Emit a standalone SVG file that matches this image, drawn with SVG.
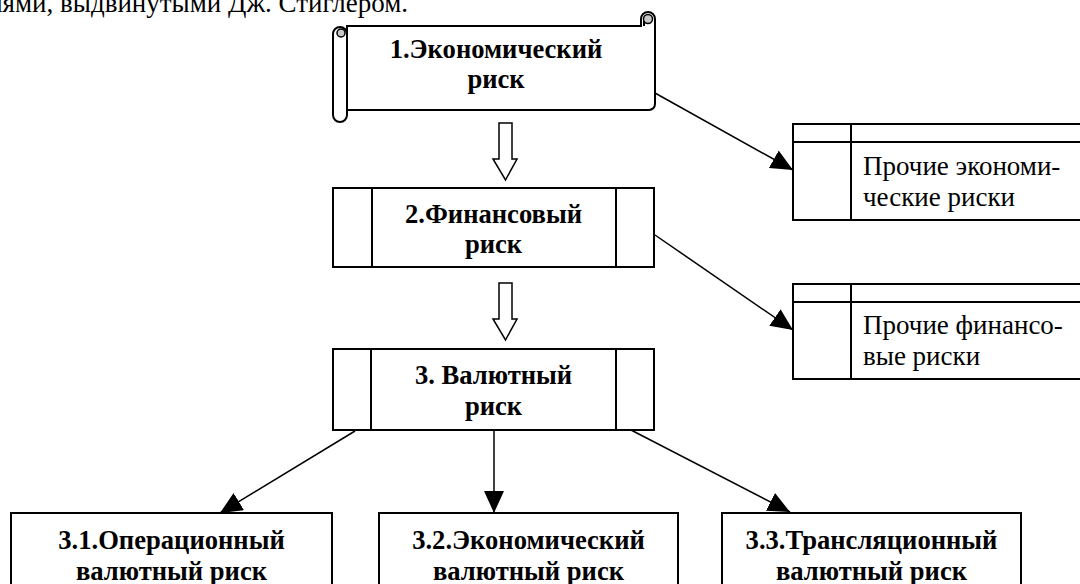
<svg xmlns="http://www.w3.org/2000/svg" width="1080" height="584" viewBox="0 0 1080 584">
<style>
.t{font-family:"Liberation Serif","Times New Roman",serif;font-size:27px;fill:#000}
.b{font-weight:bold;text-anchor:middle;font-size:26.6px}
.box{fill:#fff;stroke:#000;stroke-width:2}
.ln{fill:none;stroke:#000;stroke-width:2}
.con{fill:none;stroke:#000;stroke-width:1.5;marker-end:url(#ah)}
.blk{fill:#fff;stroke:#000;stroke-width:1.5}
</style>
<defs>
<marker id="ah" markerUnits="userSpaceOnUse" markerWidth="22" markerHeight="20" viewBox="0 0 22 20" refX="22" refY="10" orient="auto">
<path d="M0,0 L22,10 L0,20 Z" fill="#000"/>
</marker>
</defs>
<rect width="1080" height="584" fill="#fff"/>
<text class="t" x="408" y="12" text-anchor="end">иями, выдвинутыми Дж. Стиглером.</text>

<g id="connectors">
<line class="con" x1="655" y1="93" x2="793" y2="170"/>
<line class="con" x1="655" y1="235" x2="793" y2="330"/>
<line class="con" x1="355" y1="431" x2="220" y2="513"/>
<line class="con" x1="494" y1="431" x2="494" y2="513"/>
<line class="con" x1="631" y1="430" x2="790" y2="512"/>
<path class="blk" d="M499,123 H512 V159 H517 L505.5,180 L493,159 H499 Z"/>
<path class="blk" d="M499,283 H512 V319 H517 L505.5,340 L493,319 H499 Z"/>
</g>

<g id="n1">
<path class="box" d="M347,26 H641 V19 A7,7 0 0 1 655,19 V104 A6,6 0 0 1 649,110 H347 Z"/>
<circle cx="648" cy="19" r="4.5" fill="#c8c8c8" stroke="#000" stroke-width="1.5"/>
<path class="ln" d="M644,21 V26" stroke-width="1.2"/>
<path class="box" d="M333,34 A7,7 0 0 1 347,34 V115 A7,7 0 0 1 333,115 Z"/>
<circle cx="341" cy="33" r="4" fill="#c8c8c8" stroke="#000" stroke-width="1.5"/>
<text class="t b" x="496" y="58">1.Экономический</text>
<text class="t b" x="496" y="88">риск</text>
</g>

<g id="n2">
<rect class="box" x="333" y="188" width="321" height="79"/>
<line class="ln" x1="372" y1="188" x2="372" y2="267"/>
<line class="ln" x1="616" y1="188" x2="616" y2="267"/>
<text class="t b" x="493.5" y="223">2.Финансовый</text>
<text class="t b" x="493.5" y="253">риск</text>
</g>

<g id="n3">
<rect class="box" x="333" y="349" width="321" height="81"/>
<line class="ln" x1="371" y1="349" x2="371" y2="430"/>
<line class="ln" x1="616" y1="349" x2="616" y2="430"/>
<text class="t b" x="493.5" y="384">3. Валютный</text>
<text class="t b" x="493.5" y="415">риск</text>
</g>

<g id="n4">
<rect class="box" x="793" y="124" width="300" height="96"/>
<line class="ln" x1="793" y1="142" x2="1093" y2="142"/>
<line class="ln" x1="851" y1="124" x2="851" y2="220"/>
<text class="t" x="863" y="175">Прочие экономи-</text>
<text class="t" x="863" y="206">ческие риски</text>
</g>

<g id="n5">
<rect class="box" x="793" y="284" width="300" height="95"/>
<line class="ln" x1="793" y1="302" x2="1093" y2="302"/>
<line class="ln" x1="851" y1="284" x2="851" y2="379"/>
<text class="t" x="863" y="334">Прочие финансо-</text>
<text class="t" x="863" y="365">вые риски</text>
</g>

<g id="n6">
<rect class="box" x="11" y="513" width="321" height="90"/>
<text class="t b" x="171.5" y="549">3.1.Операционный</text>
<text class="t b" x="171.5" y="580">валютный риск</text>
</g>

<g id="n7">
<rect class="box" x="379" y="513" width="299" height="90"/>
<text class="t b" x="528.5" y="549">3.2.Экономический</text>
<text class="t b" x="528.5" y="580">валютный риск</text>
</g>

<g id="n8">
<rect class="box" x="722" y="513" width="299" height="90"/>
<text class="t b" x="871.5" y="549">3.3.Трансляционный</text>
<text class="t b" x="871.5" y="580">валютный риск</text>
</g>
</svg>
